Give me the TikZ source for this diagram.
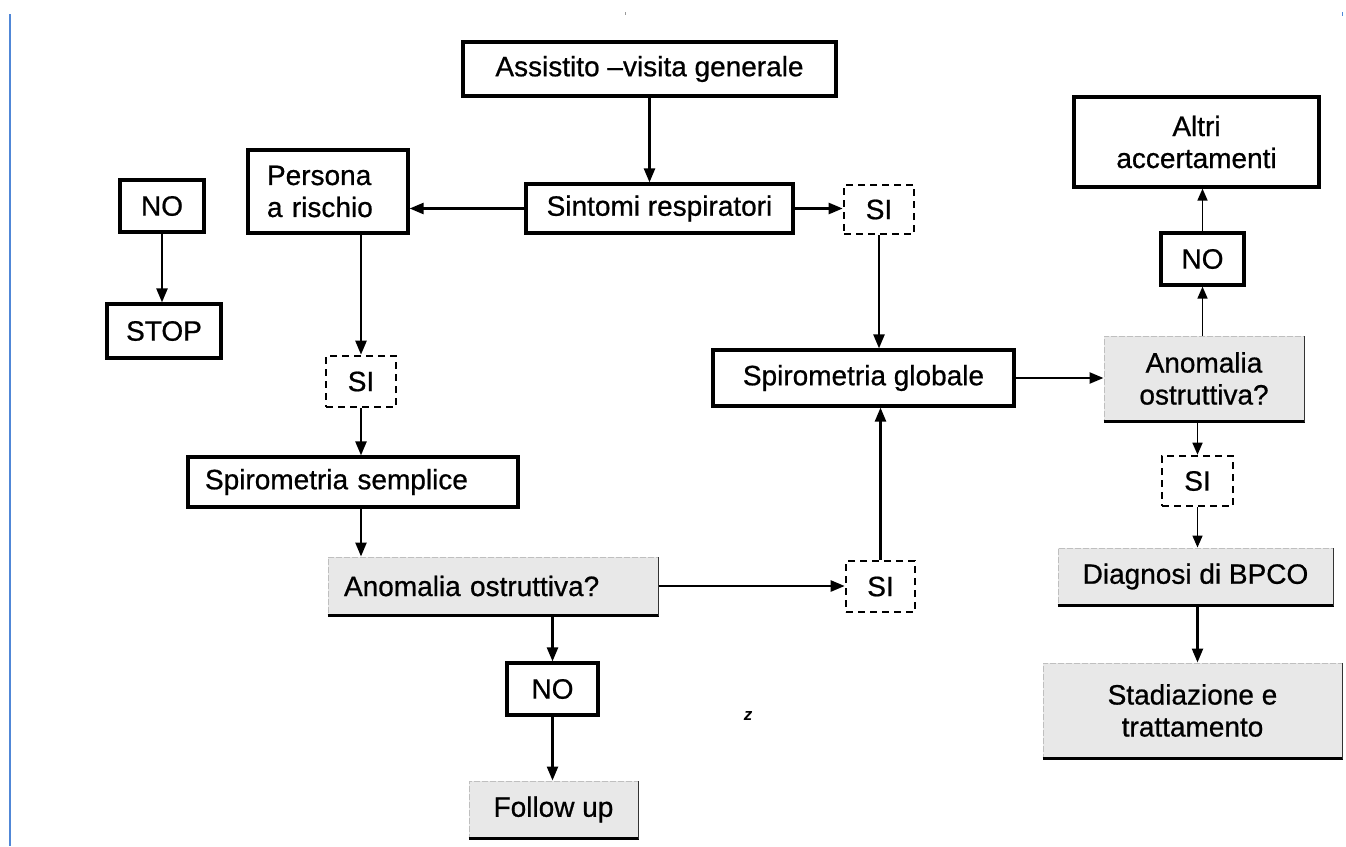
\documentclass[tikz,border=0pt]{standalone}
\usepackage{fontspec}
\setmainfont{Liberation Sans}
\newfontfamily\boxfont[FakeBold=0.7]{Liberation Sans}
\usetikzlibrary{arrows.meta}
\definecolor{edgeblue}{RGB}{80,135,215}
\begin{document}
\begin{tikzpicture}[x=1pt,y=-1pt,
  box/.style={draw, line width=3.2pt, inner sep=0pt, font=\boxfont\fontsize{28}{32}\selectfont, align=center},
  dbox/.style={box, dash pattern=on 7pt off 5pt, line width=2.6pt},
  gbox/.style={box, fill=black!9, draw=black!25, line width=1pt, dash pattern=on 6pt off 2pt},
  arr/.style={line width=2.4pt, -{Triangle[length=14pt,width=11pt]}},
  tarr/.style={line width=1.6pt, -{Triangle[length=12pt,width=10pt]}},
  lbox/.style={align=left}]
\useasboundingbox (0,0) rectangle (1346,846);
\fill[white] (0,0) rectangle (1346,846);
% page artefacts
\coordinate (bltop) at (10,14);
\coordinate (blbot) at (10,846);
\draw[edgeblue, line width=2.5pt] (bltop) -- (blbot);
\coordinate (tka) at (1342,12);
\coordinate (tkb) at (1342,16);
\draw[edgeblue, line width=1pt] (tka) -- (tkb);
\coordinate (tkc) at (625,12);
\coordinate (tkd) at (625,15);
\draw[black!40, line width=0.6pt] (tkc) -- (tkd);

% nodes
\node[box, minimum width=373pt, minimum height=54pt] (assist) at (649.5,69) {Assistito –visita generale};
\node[box, minimum width=267pt, minimum height=49pt] (sintomi) at (659.5,208.5) {Sintomi respiratori};
\node[box, lbox, text width=122pt, inner xsep=19pt, minimum height=83pt] (persona) at (328,191.5) {Persona\\a rischio};
\node[box, minimum width=84pt, minimum height=52pt] (no1) at (162,206) {NO};
\node[box, minimum width=114pt, minimum height=54pt] (stop) at (164,331) {STOP};
\node[dbox, minimum width=70pt, minimum height=51pt] (si1) at (361,381.5) {SI};
\node[box, lbox, text width=296pt, inner xsep=17pt, minimum height=50pt] (semplice) at (353,482) {Spirometria semplice};
\node[gbox, lbox, text width=298pt, inner xsep=16pt, minimum height=58pt] (anom1) at (493,586) {Anomalia ostruttiva?};
\node[dbox, minimum width=69pt, minimum height=51pt] (si2) at (880.5,586.5) {SI};
\node[box, minimum width=91pt, minimum height=52pt] (no2) at (552.5,689) {NO};
\node[gbox, minimum width=169pt, minimum height=57pt] (follow) at (553.5,809.5) {Follow up};
\node[dbox, minimum width=70pt, minimum height=49pt] (sitop) at (879,209.5) {SI};
\node[box, minimum width=301pt, minimum height=56pt] (globale) at (863.5,378) {Spirometria globale};
\node[gbox, minimum width=200pt, minimum height=85pt] (anom2) at (1204,378.5) {Anomalia\\ostruttiva?};
\node[box, minimum width=83pt, minimum height=52pt] (no3) at (1202.5,259) {NO};
\node[box, minimum width=245pt, minimum height=90pt] (altri) at (1196.5,142) {Altri\\accertamenti};
\node[dbox, minimum width=71pt, minimum height=50pt] (si3) at (1197.5,481) {SI};
\node[gbox, minimum width=275pt, minimum height=57pt] (diag) at (1195.5,576.5) {Diagnosi di BPCO};
\node[gbox, minimum width=299pt, minimum height=95pt] (stad) at (1192.5,710.5) {Stadiazione e\\trattamento};
\node[font=\bfseries\itshape\fontsize{17}{17}\selectfont] (zmark) at (748,716) {z};

% heavy bottom/right edges of the grey boxes
\foreach \n in {anom1,anom2,follow,diag,stad}{
  \draw[line width=3.4pt] (\n.south west) -- (\n.south east);
  \draw[line width=1.8pt, black!80] (\n.south east) -- (\n.north east);
}

% connectors
\draw[arr] (assist.south) -- (assist.south |- sintomi.north);
\draw[arr] (sintomi.west) -- (sintomi.west -| persona.east);
\draw[arr] (sintomi.east) -- (sintomi.east -| sitop.west);
\draw[arr] (no1.south) -- (no1.south |- stop.north);
\draw[arr] (si1.north |- persona.south) -- (si1.north);
\draw[arr] (si1.south) -- (si1.south |- semplice.north);
\draw[arr] (si1.south |- semplice.south) -- (si1.south |- anom1.north);
\draw[arr] (anom1.east) -- (anom1.east -| si2.west);
\draw[arr] (si2.north) -- (si2.north |- globale.south);
\draw[arr] (sitop.south) -- (sitop.south |- globale.north);
\draw[arr] (globale.east) -- (globale.east -| anom2.west);
\draw[tarr] (no3.south |- anom2.north) -- (no3.south);
\draw[tarr] (no3.north) -- (no3.north |- altri.south);
\draw[tarr] (si3.north |- anom2.south) -- (si3.north);
\draw[tarr] (si3.south) -- (si3.south |- diag.north);
\draw[arr] (si3.south |- diag.south) -- (si3.south |- stad.north);
\draw[arr] (no2.north |- anom1.south) -- (no2.north);
\draw[arr] (no2.south) -- (no2.south |- follow.north);
\end{tikzpicture}
\end{document}
